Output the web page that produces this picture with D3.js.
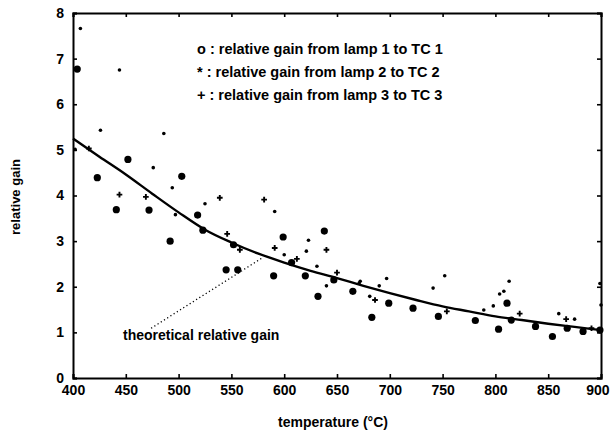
<!DOCTYPE html>
<html>
<head>
<meta charset="utf-8">
<script src="https://cdn.jsdelivr.net/npm/d3@7"></script>
<style>
  html, body { margin: 0; padding: 0; background: #fff; }
  svg { display: block; }
  text { font-family: "Liberation Sans", Arial, sans-serif; font-weight: bold; fill: #000; }
</style>
</head>
<body>
<svg id="chart" width="610" height="432"></svg>
<script>
// ---------- data ----------
const xTicks = [400, 450, 500, 550, 600, 650, 700, 750, 800, 850, 900];
const yTicks = [0, 1, 2, 3, 4, 5, 6, 7, 8];

// theoretical relative gain curve
const curveTemp = [400, 425, 450, 475, 500, 525, 550, 575, 600, 625, 650, 675, 700, 725, 750, 775, 800, 825, 850, 875, 900];
const curveGain = [5.25, 4.85, 4.46, 4.04, 3.63, 3.25, 2.97, 2.73, 2.53, 2.35, 2.19, 2.02, 1.86, 1.71, 1.57, 1.46, 1.35, 1.27, 1.19, 1.12, 1.05];

// o : lamp 1 -> TC 1
const s1Temp = [404, 423, 441, 452, 472, 492, 503, 518, 523, 545, 552, 556, 590, 599, 607, 620, 632, 638, 647, 665, 683, 699, 722, 746, 781, 803, 811, 815, 838, 854, 868, 883, 899];
const s1Gain = [6.77, 4.39, 3.69, 4.79, 3.68, 3.00, 4.42, 3.57, 3.24, 2.37, 2.92, 2.37, 2.24, 3.09, 2.53, 2.24, 1.79, 3.22, 2.15, 1.90, 1.33, 1.64, 1.53, 1.35, 1.26, 1.07, 1.64, 1.27, 1.13, 0.91, 1.09, 1.02, 1.05];

// * : lamp 2 -> TC 2
const s2Temp = [407, 402, 426, 444, 476, 486, 494, 497, 525, 591, 600, 621, 623, 631, 640, 671, 672, 681, 690, 697, 741, 752, 789, 798, 804, 808, 813, 860, 875, 899, 900];
const s2Gain = [7.66, 5.01, 5.43, 6.75, 4.61, 5.36, 4.17, 3.58, 3.82, 3.65, 2.70, 2.78, 3.02, 2.45, 2.02, 2.08, 2.12, 1.79, 2.02, 2.18, 1.97, 2.24, 1.49, 1.58, 1.84, 1.90, 2.12, 1.41, 1.29, 2.07, 1.60];

// + : lamp 3 -> TC 3
const s3Temp = [415, 444, 469, 539, 546, 558, 581, 591, 612, 640, 650, 686, 754, 823, 867, 891];
const s3Gain = [5.03, 4.02, 3.97, 3.95, 3.16, 2.81, 3.91, 2.85, 2.61, 2.81, 2.31, 1.71, 1.46, 1.41, 1.29, 1.09];

const legendLines = [
  "o : relative gain from lamp 1 to TC 1",
  "* : relative gain from lamp 2 to TC 2",
  "+ : relative gain from lamp 3 to TC 3"
];
const annotation = "theoretical relative gain";
const annotFrom = [474, 1.09];
const annotTo = [579, 2.63];

// ---------- layout ----------
const svg = d3.select("#chart");
const L = 73, R = 601, T = 13, B = 378;
const x = d3.scaleLinear().domain([400, 900]).range([L, R]);
const y = d3.scaleLinear().domain([0, 8]).range([B, T]);

svg.append("rect").attr("width", 610).attr("height", 432).attr("fill", "#fff");

// axes (MATLAB style box with inward ticks)
const gx = svg.append("g").attr("transform", `translate(0,${B})`)
  .call(d3.axisBottom(x).tickValues(xTicks).tickSize(-4).tickPadding(9).tickFormat(d3.format("d")));
const gxTop = svg.append("g").attr("transform", `translate(0,${T})`)
  .call(d3.axisTop(x).tickValues(xTicks).tickSize(-4).tickFormat(""));
const gy = svg.append("g").attr("transform", `translate(${L},0)`)
  .call(d3.axisLeft(y).tickValues(yTicks).tickSize(-4).tickPadding(9).tickFormat(d3.format("d")));
const gyR = svg.append("g").attr("transform", `translate(${R},0)`)
  .call(d3.axisRight(y).tickValues(yTicks).tickSize(-4).tickFormat(""));

[gx, gxTop, gy, gyR].forEach(g => {
  g.selectAll(".domain").attr("stroke", "#000").attr("stroke-width", 2);
  g.selectAll(".tick line").attr("stroke", "#000").attr("stroke-width", 1.6);
  g.selectAll("text").style("font-size", "14px").style("font-weight", "bold")
    .style("font-family", "'Liberation Sans', Arial, sans-serif").attr("fill", "#000");
});
gx.selectAll(".tick text").attr("dy", "0.55em");
// keep the last label inside the frame
gx.selectAll(".tick text").filter(d => d === 900).attr("text-anchor", "end").attr("x", 8);

// theoretical curve
const line = d3.line().x(d => x(d[0])).y(d => y(d[1])).curve(d3.curveMonotoneX);
svg.append("path")
  .datum(curveTemp.map((t, i) => [t, curveGain[i]]))
  .attr("d", line).attr("fill", "none").attr("stroke", "#000").attr("stroke-width", 2.4);

// series 1: large blobs
svg.append("g").selectAll("circle")
  .data(s1Temp.map((t, i) => [t, s1Gain[i]]))
  .join("circle")
  .attr("cx", d => x(d[0])).attr("cy", d => y(d[1])).attr("r", 3.6).attr("fill", "#000");

// series 2: small dots
svg.append("g").selectAll("circle")
  .data(s2Temp.map((t, i) => [t, s2Gain[i]]))
  .join("circle")
  .attr("cx", d => x(d[0])).attr("cy", d => y(d[1])).attr("r", 1.8).attr("fill", "#000");

// series 3: small plus
const plus = d3.symbol().type(d3.symbolCross).size(18);
svg.append("g").selectAll("path")
  .data(s3Temp.map((t, i) => [t, s3Gain[i]]))
  .join("path")
  .attr("d", plus)
  .attr("transform", d => `translate(${x(d[0])},${y(d[1])})`)
  .attr("fill", "#000");

// legend text
svg.append("g").selectAll("text")
  .data(legendLines)
  .join("text")
  .attr("x", 197).attr("y", (d, i) => 54 + i * 23)
  .style("font-size", "14.5px")
  .text(d => d);

// annotation + dotted leader
svg.append("line")
  .attr("x1", x(annotFrom[0])).attr("y1", y(annotFrom[1]))
  .attr("x2", x(annotTo[0])).attr("y2", y(annotTo[1]))
  .attr("stroke", "#000").attr("stroke-width", 1.3).attr("stroke-dasharray", "1.2,2.6");
svg.append("text").attr("x", 123).attr("y", 340).style("font-size", "14px").text(annotation);

// axis titles
svg.append("text").attr("x", (L + R) / 2 - 4).attr("y", 427).attr("text-anchor", "middle")
  .style("font-size", "14px").text("temperature (°C)");
svg.append("text").attr("transform", "translate(20,197) rotate(-90)").attr("text-anchor", "middle")
  .style("font-size", "13px").text("relative gain");
</script>
</body>
</html>
